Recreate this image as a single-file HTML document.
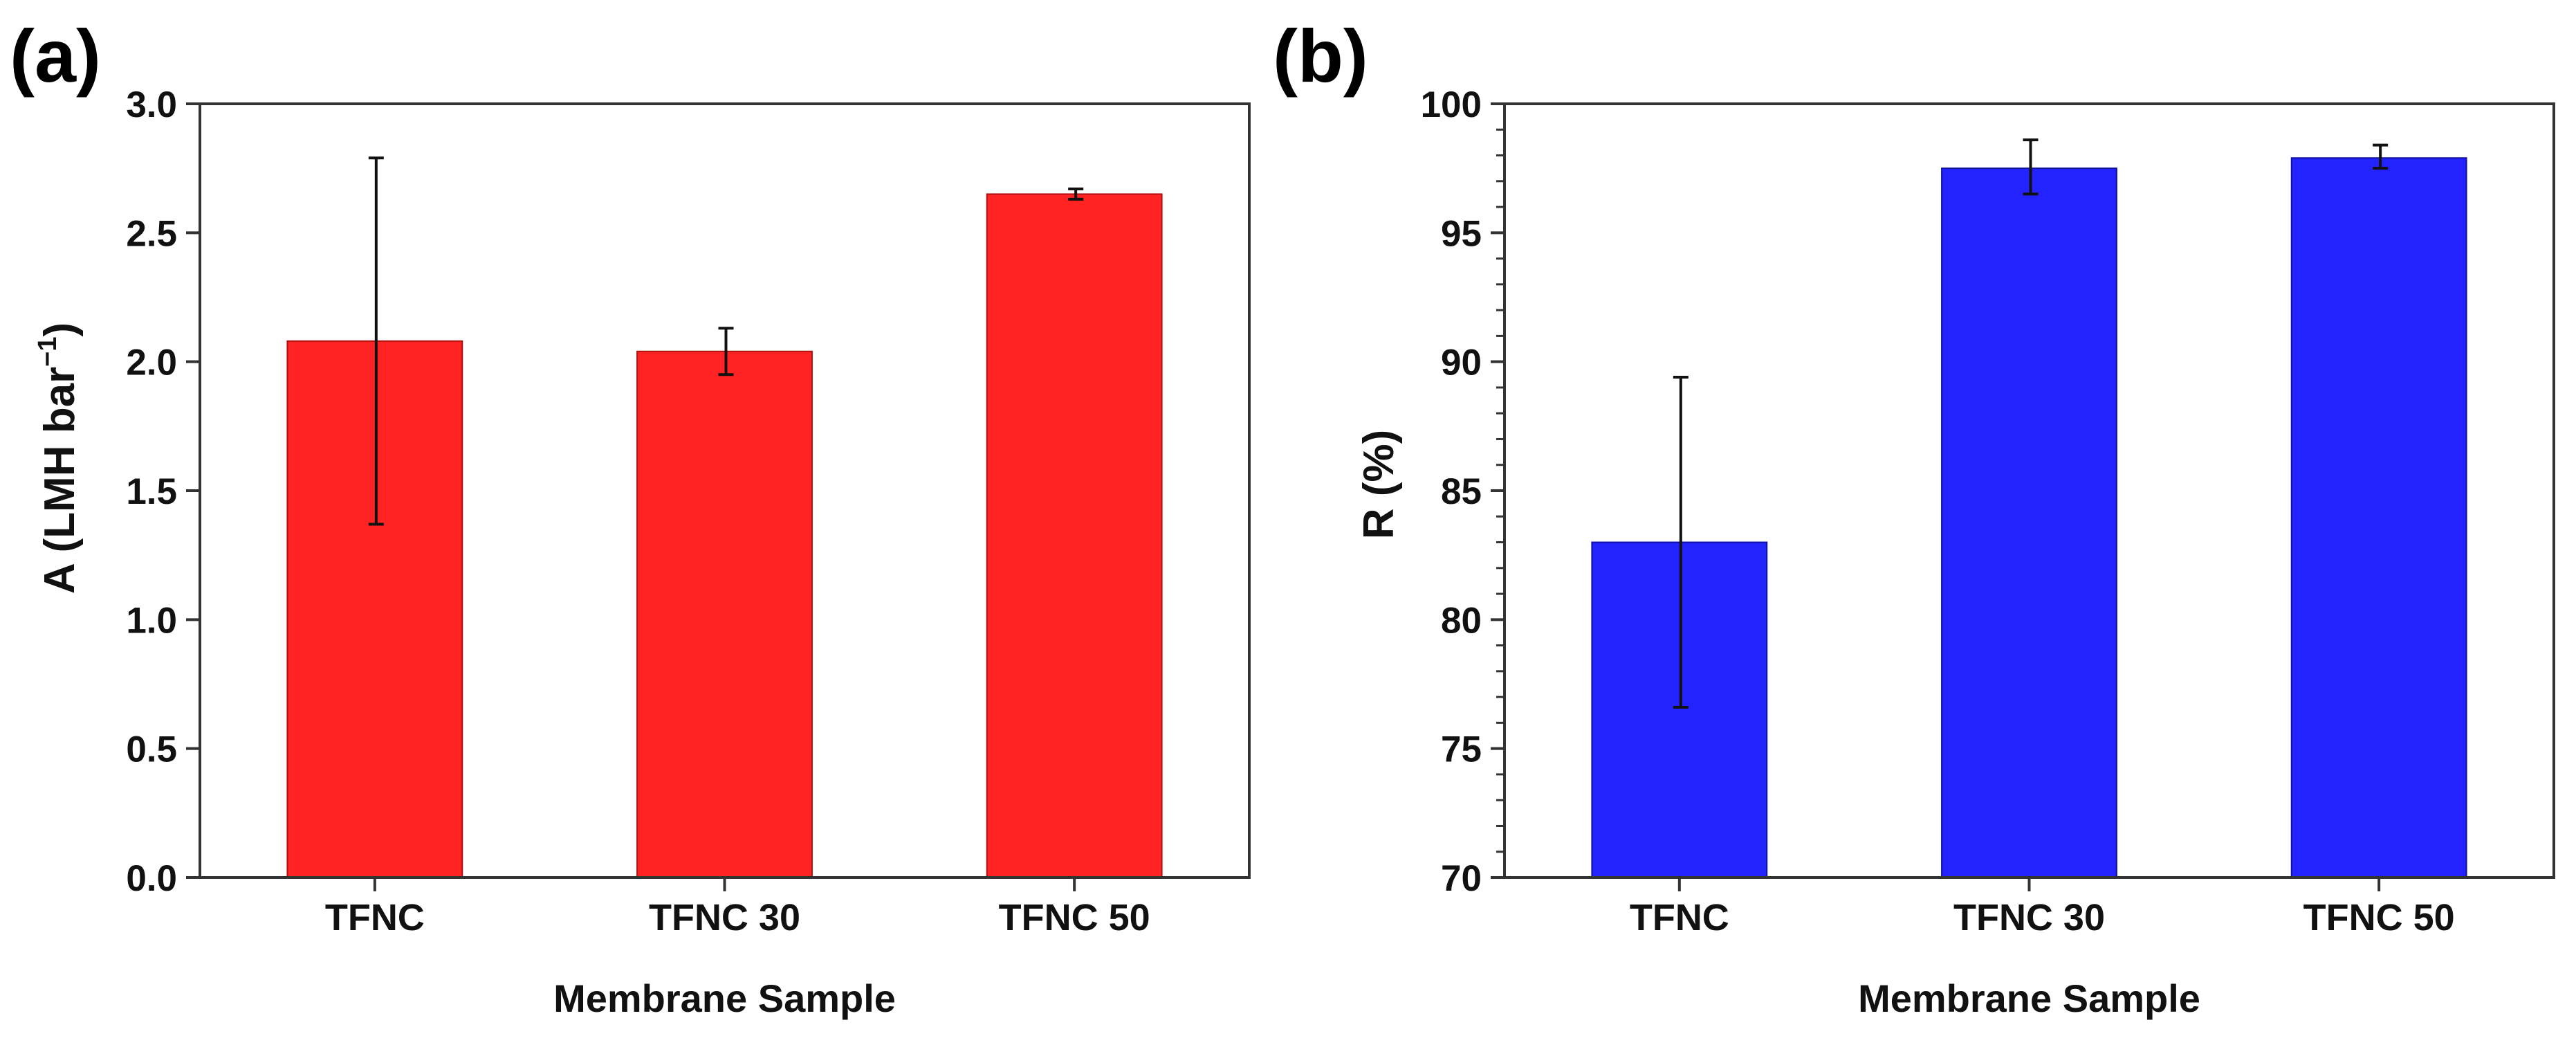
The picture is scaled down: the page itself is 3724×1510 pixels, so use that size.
<!DOCTYPE html>
<html><head><meta charset="utf-8"><style>
html,body{margin:0;padding:0;background:#fff;}
svg{display:block;font-family:"Liberation Sans",Arial,sans-serif;font-weight:bold;}
</style></head><body>
<svg id="fig" width="3724" height="1510" viewBox="0 0 3724 1510" xmlns="http://www.w3.org/2000/svg">
<rect width="3724" height="1510" fill="#fff"/>
</svg>
<script>
const categories = ["TFNC", "TFNC 30", "TFNC 50"];
const aValues = [2.08, 2.04, 2.65];
const aErrLow = [1.37, 1.95, 2.63];
const aErrHigh = [2.79, 2.13, 2.67];
const aTicks = [0.0, 0.5, 1.0, 1.5, 2.0, 2.5, 3.0];
const aTickLabels = ["0.0", "0.5", "1.0", "1.5", "2.0", "2.5", "3.0"];
const rValues = [83.0, 97.5, 97.9];
const rErrLow = [76.6, 96.5, 97.5];
const rErrHigh = [89.4, 98.6, 98.4];
const rTicks = [70, 75, 80, 85, 90, 95, 100];
const rTickLabels = ["70", "75", "80", "85", "90", "95", "100"];
const rMinorTicks = [71,72,73,74,76,77,78,79,81,82,83,84,86,87,88,89,91,92,93,94,96,97,98,99];

const NS = "http://www.w3.org/2000/svg";
const svg = document.getElementById('fig');
function mk(tag, attrs, parent) {
  const e = document.createElementNS(NS, tag);
  for (const k in attrs) e.setAttribute(k, attrs[k]);
  (parent || svg).appendChild(e);
  return e;
}

function panel(cfg) {
  const g = mk('g', {});
  
  
  const L = cfg.left, R = cfg.right, T = 150, B = 1268;
  const y = v => B - (v - cfg.min) / (cfg.max - cfg.min) * (B - T);
  const step = (R - L) / categories.length;
  const x = i => L + step * (i + 0.5);
  const bw = step / 2;
  // bars
  cfg.values.forEach((v, i) => {
    const b = mk('rect', {x: x(i) - bw / 2, y: y(v), width: bw, height: B - y(v), fill: cfg.color, stroke: cfg.edge, 'stroke-width': 2}, g);
    
    
  });
  // error bars
  cfg.values.forEach((v, i) => {
    const eg = mk('g', {stroke: '#111', 'stroke-width': 4}, g);
    
    
    const cx = x(i) + 2;
    mk('line', {x1: cx, x2: cx, y1: y(cfg.lo[i]), y2: y(cfg.hi[i])}, eg);
    mk('line', {x1: cx - 11, x2: cx + 11, y1: y(cfg.lo[i]), y2: y(cfg.lo[i])}, eg);
    mk('line', {x1: cx - 11, x2: cx + 11, y1: y(cfg.hi[i]), y2: y(cfg.hi[i])}, eg);
  });
  // frame
  const fr = mk('rect', {x: L, y: T, width: R - L, height: B - T, fill: 'none', stroke: '#333', 'stroke-width': 4}, g);
  
  
  // y ticks
  const yax = mk('g', {}, g);
  
  
  cfg.ticks.forEach((t, i) => {
    mk('line', {x1: L - 20, x2: L, y1: y(t), y2: y(t), stroke: '#333', 'stroke-width': 4}, yax);
    const tx = mk('text', {x: L - 33, y: y(t) + 19, 'text-anchor': 'end', 'font-size': 53, fill: '#111'}, yax);
    tx.textContent = cfg.tickLabels[i];
    
    
  });
  (cfg.minor || []).forEach(t => {
    mk('line', {x1: L - 12, x2: L, y1: y(t), y2: y(t), stroke: '#333', 'stroke-width': 3}, yax);
  });
  // x ticks
  const xax = mk('g', {}, g);
  
  
  categories.forEach((c, i) => {
    mk('line', {x1: x(i), x2: x(i), y1: B, y2: B + 20, stroke: '#333', 'stroke-width': 4}, xax);
    const tx = mk('text', {x: x(i), y: 1344, 'text-anchor': 'middle', 'font-size': 54, fill: '#111'}, xax);
    tx.textContent = c;
    
    
  });
  const xt = mk('text', {x: (L + R) / 2, y: 1462, 'text-anchor': 'middle', 'font-size': 56, fill: '#111'}, g);
  xt.textContent = 'Membrane Sample';
  
  
  const pl = mk('text', {x: cfg.labelX, y: 118, 'font-size': 108, fill: '#000'}, g);
  pl.textContent = cfg.label;
  
  
  return {g, y};
}

panel({name: 'panel-a-permeability', left: 289, right: 1806, min: 0, max: 3, values: aValues, lo: aErrLow, hi: aErrHigh,
  ticks: aTicks, tickLabels: aTickLabels, color: '#ff2323', edge: '#b01010', label: '(a)', labelX: 14});
panel({name: 'panel-b-rejection', left: 2175, right: 3692, min: 70, max: 100, values: rValues, lo: rErrLow, hi: rErrHigh,
  ticks: rTicks, tickLabels: rTickLabels, minor: rMinorTicks, color: '#2323ff', edge: '#1010a0', label: '(b)', labelX: 1840});

// y titles
const ya = mk('text', {transform: 'translate(107,662) rotate(-90)', 'text-anchor': 'middle', 'font-size': 62, fill: '#111'});


ya.innerHTML = 'A (LMH bar<tspan font-size="38" dy="-26">−1</tspan><tspan dy="26">)</tspan>';
const yb = mk('text', {transform: 'translate(2014,700) rotate(-90)', 'text-anchor': 'middle', 'font-size': 62, fill: '#111'});


yb.textContent = 'R (%)';
</script>
</body></html>
